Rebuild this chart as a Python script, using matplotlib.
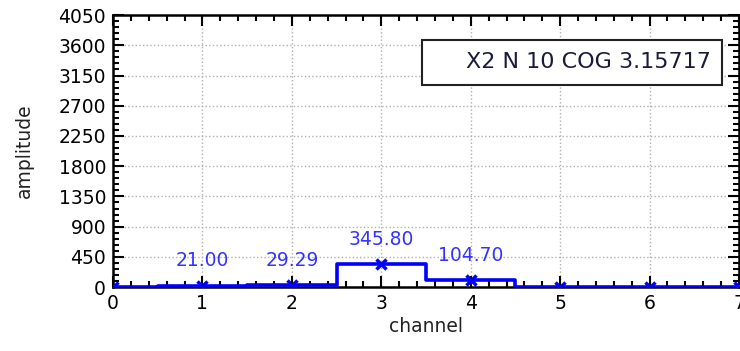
import matplotlib.pyplot as plt
from matplotlib.patches import Rectangle
from matplotlib.ticker import MultipleLocator, AutoMinorLocator

channels = [0, 1, 2, 3, 4, 5, 6, 7]
amplitudes = [0.0, 21.00, 29.29, 345.80, 104.70, 0.0, 0.0, 0.0]
info_text = "X2 N 10 COG 3.15717"

plt.rcParams['font.family'] = ['DejaVu Sans']

fig = plt.figure(figsize=(7.4, 3.51), dpi=100)
ax = fig.add_axes([0.1527, 0.182, 0.846, 0.775])

ax.step(channels, amplitudes, where='mid', color='#0000ff', lw=2.6, zorder=3)
ax.plot(channels, amplitudes, ls='none', marker='x', ms=7, mew=2.5,
        color='#0000ff', zorder=4)

for c, a in zip(channels, amplitudes):
    if a > 0:
        ax.annotate(f"{a:.2f}", (c, a), xytext=(0, 11), textcoords='offset points',
                    ha='center', va='bottom', color='#3333ff', fontsize=13.5)

ax.set_xlim(0, 7)
ax.set_ylim(0, 4050)
ax.xaxis.set_major_locator(MultipleLocator(1))
ax.yaxis.set_major_locator(MultipleLocator(450))
ax.xaxis.set_minor_locator(AutoMinorLocator(5))
ax.yaxis.set_minor_locator(AutoMinorLocator(5))
ax.tick_params(which='both', direction='in', top=True, right=True,
               labelsize=13.5, colors='black', width=1.5)
ax.tick_params(which='major', length=8, pad=5)
ax.tick_params(which='minor', length=4)
for s in ax.spines.values():
    s.set_linewidth(1.8)
ax.grid(True, which='major', ls=':', color='#b0b0b0', lw=1)

ax.set_xlabel('channel', fontsize=13.5, color='#222222', labelpad=3)
ax.set_ylabel('amplitude', fontsize=13.5, color='#222222', labelpad=18)

ax.add_patch(Rectangle((0.494, 0.743), 0.479, 0.165, transform=ax.transAxes,
                       fc='white', ec='#222222', lw=1.5, zorder=5))
ax.text(0.955, 0.827, info_text, transform=ax.transAxes, ha='right', va='center',
        fontsize=16, color='#1a1a3a', zorder=6)

fig.savefig('out.png', dpi=100)
